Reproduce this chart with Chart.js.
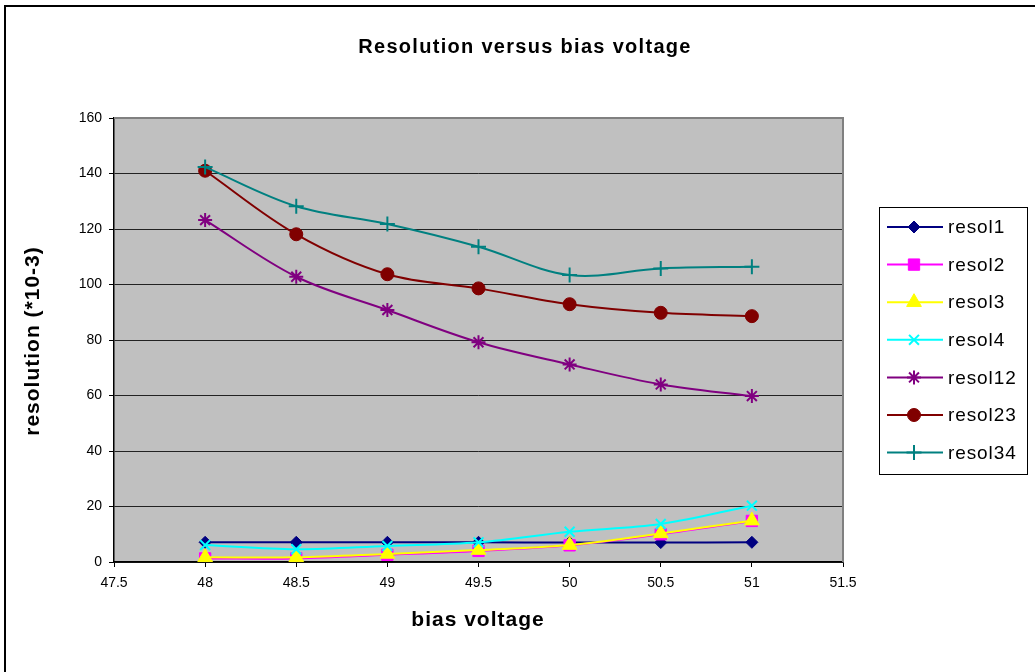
<!DOCTYPE html>
<html>
<head>
<meta charset="utf-8">
<title>Resolution versus bias voltage</title>
<script src="https://cdn.jsdelivr.net/npm/chart.js@4/dist/chart.umd.min.js"></script>
<style>
  html, body { margin: 0; padding: 0; background: #fff; overflow: hidden; }
  #wrap { position: relative; width: 1035px; height: 672px; }
  #frame { position: absolute; left: 4px; top: 5px; width: 1100px; height: 700px;
           border-left: 2px solid #000; border-top: 2px solid #000; pointer-events: none; }
  canvas { position: absolute; left: 0; top: 0; }
</style>
</head>
<body>
<div id="wrap">
  <canvas id="myChart" width="1035" height="672"></canvas>
  <div id="frame"></div>
</div>
<script>
// bias voltage points
const voltages = [48, 48.5, 49, 49.5, 50, 50.5, 51];

// resolution values (*10-3)
const resol1  = [7.1, 7.1, 7.1, 7.1, 7.0, 7.0, 7.1];
const resol2  = [1.3, 1.3, 2.6, 4.0, 6.0, 10.0, 14.8];
const resol3  = [1.7, 1.7, 2.9, 4.3, 6.1, 10.3, 14.9];
const resol4  = [6.1, 4.6, 5.8, 7.1, 10.9, 13.7, 20.3];
const resol12 = [123.2, 102.8, 90.8, 79.2, 71.2, 64.0, 59.8];
const resol23 = [141.0, 118.1, 103.7, 98.6, 92.9, 89.8, 88.6];
const resol34 = [142.3, 128.2, 121.8, 113.6, 103.4, 105.8, 106.4];

const seriesNames = ["resol1", "resol2", "resol3", "resol4", "resol12", "resol23", "resol34"];
const seriesValues = [resol1, resol2, resol3, resol4, resol12, resol23, resol34];

// axis ticks
const xTicks = [47.5, 48, 48.5, 49, 49.5, 50, 50.5, 51, 51.5];
const yTicks = [0, 20, 40, 60, 80, 100, 120, 140, 160];

const FONT = "'Liberation Sans', Arial, sans-serif";

// excel-ish look per series
const looks = [
  { color: "#000080", fill: "#000080", style: "rectRot", radius: 6 },
  { color: "#FF00FF", fill: "#FF00FF", style: "rect", radius: 8 },
  { color: "#FFFF00", fill: "#FFFF00", style: "triangle", radius: 8.5 },
  { color: "#00FFFF", fill: "#00FFFF", style: "crossRot", radius: 7 },
  { color: "#800080", fill: "#800080", style: "star", radius: 7 },
  { color: "#800000", fill: "#800000", style: "circle", radius: 6.5 },
  { color: "#008080", fill: "#008080", style: "cross", radius: 7.5 }
];

const datasets = seriesNames.map((name, i) => ({
  label: name,
  data: voltages.map((v, j) => ({ x: v, y: seriesValues[i][j] })),
  // later series sit on top of earlier ones
  order: seriesNames.length - i,
  borderColor: looks[i].color,
  backgroundColor: looks[i].fill,
  pointStyle: looks[i].style,
  pointRadius: looks[i].radius,
  pointBorderColor: looks[i].color,
  pointBackgroundColor: looks[i].fill,
  pointBorderWidth: (looks[i].style.indexOf("cross") === 0 || looks[i].style === "star") ? 2 : 1,
  borderWidth: 2,
  tension: 0.35
}));

// plot background, plot border, titles and the boxed legend
const excelFrame = {
  id: "excelFrame",
  beforeDraw(chart) {
    const { ctx, chartArea: a } = chart;
    ctx.save();
    ctx.fillStyle = "#C0C0C0";
    ctx.fillRect(a.left, a.top, a.right - a.left, a.bottom - a.top);
    ctx.restore();
  },
  afterDraw(chart) {
    const { ctx, chartArea: a } = chart;
    ctx.save();

    // top / right edge of the plot area
    ctx.strokeStyle = "#808080";
    ctx.lineWidth = 2;
    ctx.beginPath();
    ctx.moveTo(a.left, a.top);
    ctx.lineTo(a.right, a.top);
    ctx.lineTo(a.right, a.bottom);
    ctx.stroke();

    // titles
    ctx.fillStyle = "#000";
    ctx.textAlign = "center";
    ctx.textBaseline = "middle";
    ctx.letterSpacing = "1.3px";
    ctx.font = "bold 20px " + FONT;
    ctx.fillText("Resolution versus bias voltage", 525, 47);
    ctx.letterSpacing = "1px";
    ctx.font = "bold 21px " + FONT;
    ctx.fillText("bias voltage", 478, 620);
    ctx.save();
    ctx.translate(33, 341);
    ctx.rotate(-Math.PI / 2);
    ctx.fillText("resolution (*10-3)", 0, 0);
    ctx.restore();

    // legend box
    const lx = 879.5, ly = 207.5, lw = 148, lh = 267;
    ctx.fillStyle = "#fff";
    ctx.fillRect(lx, ly, lw, lh);
    ctx.strokeStyle = "#000";
    ctx.lineWidth = 1;
    ctx.strokeRect(lx, ly, lw, lh);

    ctx.font = "19px " + FONT;
    ctx.letterSpacing = "0.9px";
    ctx.textAlign = "left";
    chart.data.datasets.forEach((ds, i) => {
      const y = 227 + i * 37.6;
      ctx.strokeStyle = ds.borderColor;
      ctx.lineWidth = 2;
      ctx.beginPath();
      ctx.moveTo(887, y);
      ctx.lineTo(943, y);
      ctx.stroke();
      if (Chart.helpers && Chart.helpers.drawPoint) {
        ctx.fillStyle = ds.pointBackgroundColor;
        ctx.strokeStyle = ds.pointBorderColor;
        ctx.lineWidth = ds.pointBorderWidth;
        Chart.helpers.drawPoint(ctx, {
          pointStyle: ds.pointStyle,
          radius: ds.pointRadius,
          borderWidth: ds.pointBorderWidth,
          rotation: 0
        }, 914, y);
      }
      ctx.fillStyle = "#000";
      ctx.fillText(ds.label, 948, y + 1);
    });
    ctx.letterSpacing = "0px";
    ctx.restore();
  }
};

const ctx = document.getElementById("myChart").getContext("2d");
new Chart(ctx, {
  type: "line",
  data: { datasets },
  plugins: [excelFrame],
  options: {
    responsive: false,
    animation: false,
    devicePixelRatio: 1,
    layout: { padding: { left: 0, top: 118, right: 192, bottom: 0 } },
    plugins: {
      legend: { display: false },
      title: { display: false },
      tooltip: { enabled: false }
    },
    scales: {
      x: {
        type: "linear",
        min: xTicks[0],
        max: xTicks[xTicks.length - 1],
        afterFit: s => { s.height = 110; },
        afterBuildTicks: s => { s.ticks = xTicks.map(v => ({ value: v })); },
        border: { color: "#000", width: 1.5 },
        grid: { drawOnChartArea: false, drawTicks: true, tickLength: 5, tickColor: "#000" },
        ticks: {
          color: "#000",
          padding: 8,
          maxRotation: 0,
          autoSkip: false,
          font: { family: FONT, size: 14 },
          callback: v => String(v)
        }
      },
      y: {
        min: yTicks[0],
        max: yTicks[yTicks.length - 1],
        afterFit: s => { s.width = 114; },
        afterBuildTicks: s => { s.ticks = yTicks.map(v => ({ value: v })); },
        border: { color: "#000", width: 1.5 },
        grid: {
          color: c => (c.tick && c.tick.value === yTicks[yTicks.length - 1]) ? "rgba(0,0,0,0)" : "#222",
          lineWidth: 1,
          tickLength: 5,
          tickColor: "#000"
        },
        ticks: {
          color: "#000",
          padding: 7,
          font: { family: FONT, size: 14 },
          callback: v => String(v)
        }
      }
    }
  }
});
</script>
</body>
</html>
